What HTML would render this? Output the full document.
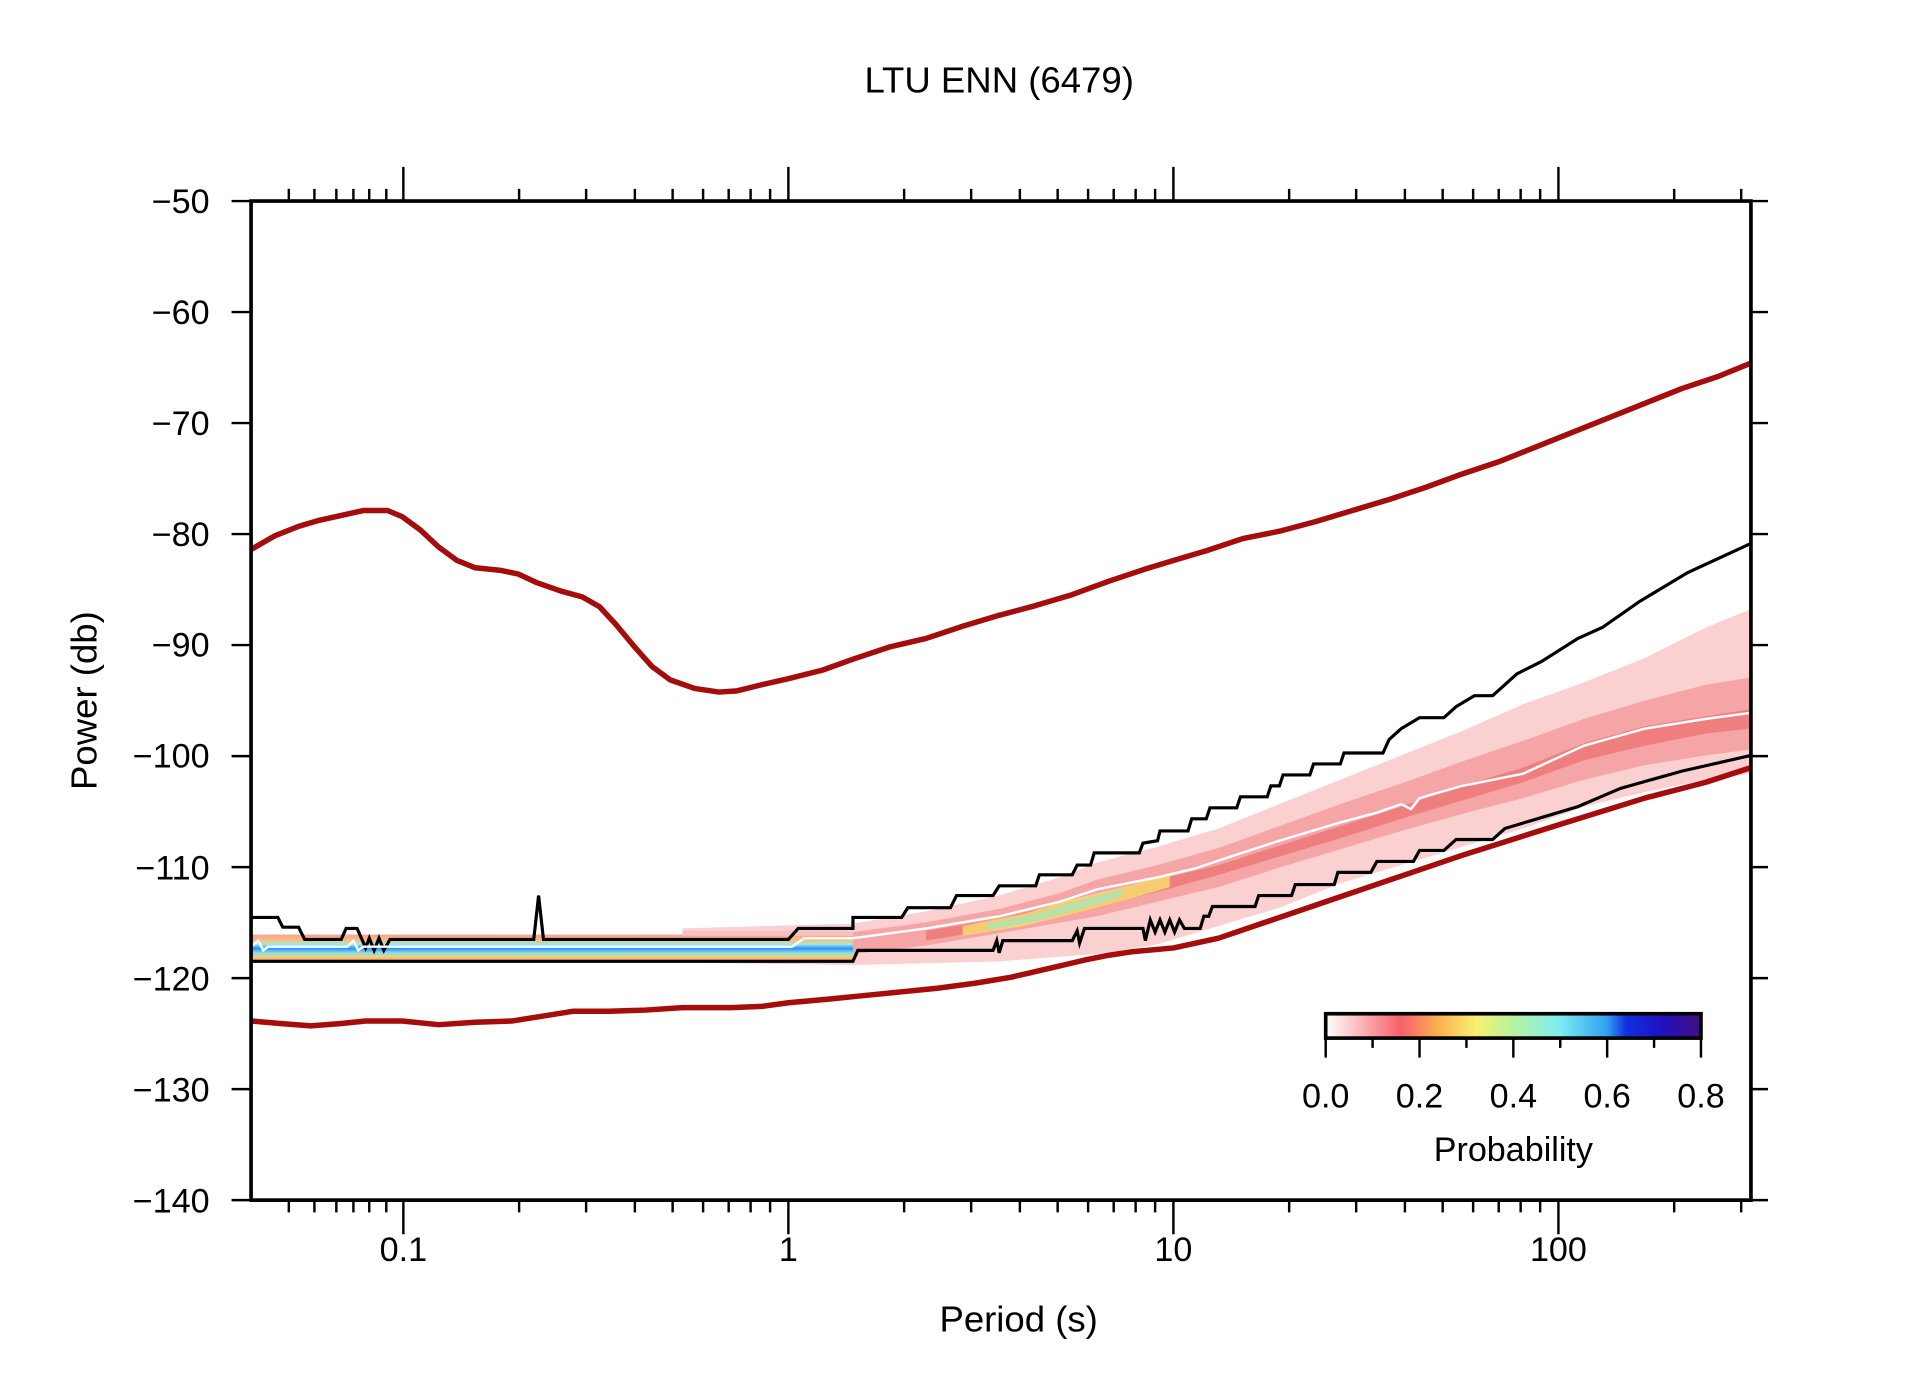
<!DOCTYPE html>
<html><head><meta charset="utf-8"><style>
html,body{margin:0;padding:0;background:#fff}
svg{display:block}
text{font-family:"Liberation Sans",Arial,sans-serif;fill:#000}
</style></head><body>
<svg width="1910" height="1389" viewBox="0 0 1567.5 1140" xmlns="http://www.w3.org/2000/svg">
<defs>
<linearGradient id="cb" x1="0" x2="1" y1="0" y2="0">
<stop offset="0" stop-color="#ffffff"/><stop offset="0.04" stop-color="#fde0e0"/>
<stop offset="0.2" stop-color="#f7606a"/><stop offset="0.3" stop-color="#fbb050"/>
<stop offset="0.4" stop-color="#f8f070"/><stop offset="0.5" stop-color="#b8f2a0"/>
<stop offset="0.62" stop-color="#80eef0"/><stop offset="0.75" stop-color="#30a0f0"/>
<stop offset="0.8" stop-color="#1030e0"/><stop offset="0.9" stop-color="#2010c0"/>
<stop offset="1" stop-color="#401080"/></linearGradient>
<linearGradient id="lowband" x1="0" x2="0" y1="0" y2="1">
<stop offset="0" stop-color="#f7a0a0"/><stop offset="0.2" stop-color="#f8c070"/>
<stop offset="0.35" stop-color="#a0e8f0"/><stop offset="0.5" stop-color="#3090f0"/>
<stop offset="0.65" stop-color="#80e0f0"/><stop offset="0.8" stop-color="#f8d070"/>
<stop offset="1" stop-color="#f08080"/></linearGradient>
</defs>

<text x="820" y="76" font-size="30" text-anchor="middle">LTU ENN (6479)</text>

<!-- PDF band -->
<polygon fill="#fbd0d0" points="560,762 700,758 760,748 820,735 870,720 900,708 950,695 1000,680 1050,660 1100,640 1150,620 1200,600 1250,578 1300,560 1350,540 1400,515 1437,500 1437,635 1400,640 1350,650 1300,662 1250,680 1200,695 1150,710 1100,725 1050,745 1000,760 950,775 900,783 820,789 700,792 560,790"/>
<polygon fill="#f4a0a0" opacity="0.9" points="700,765 760,757 820,746 870,733 900,722 950,710 1000,696 1050,678 1100,660 1150,643 1200,625 1250,608 1300,590 1350,575 1400,562 1437,556 1437,615 1400,620 1350,628 1300,640 1250,655 1200,668 1150,682 1100,697 1050,712 1000,728 950,740 900,752 820,766 760,776 700,783"/>
<polygon fill="#ee7575" opacity="0.8" points="760,764 820,754 870,742 950,722 1000,710 1050,694 1100,678 1150,662 1200,645 1250,630 1300,610 1350,596 1400,588 1437,582 1437,598 1400,602 1350,612 1300,624 1250,642 1200,657 1150,672 1100,688 1050,703 1000,718 950,732 870,752 820,762 760,772"/>
<polygon fill="#f8e070" opacity="0.8" points="790,760 840,750 880,738 930,726 960,717 960,728 930,737 880,750 840,760 790,768"/>
<polygon fill="#a0e8c0" opacity="0.7" points="810,758 850,750 890,738 920,730 920,736 890,745 850,756 810,763"/>
<rect x="206" y="767" width="494" height="23" fill="url(#lowband)"/>
<rect x="560" y="764" width="140" height="4" fill="#f8c0c0"/>

<!-- noise models -->
<polyline fill="none" stroke="#a50d0d" stroke-width="4.5" stroke-linejoin="round" points="206,451 225,440 245,432 262,427 280,423 298,419 318,419 330,424 345,435 360,449 375,460 390,466 410,468 425,471 440,478 460,485 478,490 492,498 505,512 520,530 535,547 550,558 570,565 590,568 605,567 625,562 647,557 675,550 700,541 730,531 760,524 790,514 820,505 850,497 880,488 910,477 940,467 963,460 990,452 1020,442 1050,436 1080,428 1110,419 1140,410 1170,400 1200,389 1230,379 1260,367 1290,355 1320,343 1350,331 1380,319 1410,309 1437,298"/>
<polyline fill="none" stroke="#a50d0d" stroke-width="4.5" stroke-linejoin="round" points="206,838 230,840 255,842 280,840 300,838 330,838 360,841 390,839 420,838 445,834 470,830 500,830 530,829 560,827 600,827 625,826 647,823 680,820 710,817 740,814 770,811 800,807 830,802 860,795 890,788 910,784 930,781 963,778 1000,770 1050,753 1100,736 1150,719 1200,702 1279,677 1350,655 1400,642 1437,630"/>

<!-- percentile lines -->
<polyline fill="none" stroke="#000" stroke-width="2.6" points="206,753 228,753 232,761 245,761 250,771 280,771 284,762 293,762 297,771 300,778 303,770 307,780 311,770 315,780 320,771 438,771 442,735 446,771 647,771 655,762 700,762 700,753 740,753 745,745 780,745 785,735 815,735 820,727 850,727 853,718 880,718 884,710 895,710 898,700 935,700 938,692 950,690 952,682 975,682 978,672 990,672 993,663 1015,663 1018,654 1040,654 1043,645 1050,645 1053,636 1075,636 1078,627 1100,627 1103,618 1135,618 1140,607 1150,598 1165,589 1185,589 1195,580 1210,571 1225,571 1245,553 1265,543 1295,524 1315,515 1345,494 1385,470 1437,446"/>
<polyline fill="none" stroke="#000" stroke-width="2.6" points="206,789 700,789 704,780 815,780 818,772 820,782 823,772 880,772 884,764 886,774 890,762 938,762 940,772 944,755 948,765 952,755 956,765 960,755 964,765 968,755 972,762 985,762 988,752 992,752 995,744 1030,744 1033,735 1060,735 1063,726 1095,726 1098,716 1125,716 1130,707 1160,707 1165,698 1185,698 1195,689 1225,689 1235,680 1265,671 1295,662 1330,647 1380,633 1437,620"/>
<polyline fill="none" stroke="#fff" stroke-width="2" points="206,777 212,772 216,780 220,777 285,777 290,772 294,780 298,777 650,777 660,770 700,770 760,762 820,752 870,740 900,730 950,720 980,713 1010,703 1050,690 1100,675 1130,667 1150,660 1158,664 1165,655 1200,645 1250,635 1300,612 1350,598 1400,590 1437,585"/>

<!-- frame -->
<rect x="206" y="165" width="1231" height="820" fill="none" stroke="#000" stroke-width="3"/>
<g stroke="#000" stroke-width="2">
<path d="M190 165H206M190 256.1H206M190 347.2H206M190 438.3H206M190 529.4H206M190 620.6H206M190 711.7H206M190 802.8H206M190 893.9H206M190 985H206"/>
<path d="M1437 165H1451M1437 256.1H1451M1437 347.2H1451M1437 438.3H1451M1437 529.4H1451M1437 620.6H1451M1437 711.7H1451M1437 802.8H1451M1437 893.9H1451M1437 985H1451"/>
<path d="M331 137V165M647 137V165M963 137V165M1279 137V165M331 985V1013M647 985V1013M963 985V1013M1279 985V1013"/>
<path d="M237 155V165M258 155V165M276 155V165M290 155V165M303 155V165M317 155V165M426 155V165M481 155V165M521 155V165M552 155V165M577 155V165M598 155V165M616 155V165M632 155V165M742 155V165M797 155V165M837 155V165M868 155V165M893 155V165M914 155V165M932 155V165M948 155V165M1058 155V165M1113 155V165M1153 155V165M1184 155V165M1209 155V165M1230 155V165M1248 155V165M1264 155V165M1374 155V165M1429 155V165"/>
<path d="M237 985V995M258 985V995M276 985V995M290 985V995M303 985V995M317 985V995M426 985V995M481 985V995M521 985V995M552 985V995M577 985V995M598 985V995M616 985V995M632 985V995M742 985V995M797 985V995M837 985V995M868 985V995M893 985V995M914 985V995M932 985V995M948 985V995M1058 985V995M1113 985V995M1153 985V995M1184 985V995M1209 985V995M1230 985V995M1248 985V995M1264 985V995M1374 985V995M1429 985V995"/>
</g>
<g font-size="28" text-anchor="end">
<text x="172" y="175">−50</text><text x="172" y="266">−60</text><text x="172" y="357">−70</text>
<text x="172" y="448">−80</text><text x="172" y="539">−90</text><text x="172" y="630">−100</text>
<text x="172" y="722">−110</text><text x="172" y="813">−120</text><text x="172" y="904">−130</text>
<text x="172" y="995">−140</text></g>
<g font-size="28" text-anchor="middle">
<text x="331" y="1035">0.1</text><text x="647" y="1035">1</text><text x="963" y="1035">10</text><text x="1279" y="1035">100</text>
</g>
<text x="836" y="1093" font-size="30" text-anchor="middle">Period (s)</text>
<text transform="translate(79,575) rotate(-90)" font-size="30" text-anchor="middle">Power (db)</text>

<!-- colorbar -->
<rect x="1088" y="832" width="308" height="20" fill="url(#cb)" stroke="#000" stroke-width="3"/>
<g stroke="#000" stroke-width="2">
<path d="M1088 852V868M1165 852V868M1242 852V868M1319 852V868M1396 852V868M1126.5 852V860M1203.5 852V860M1280.5 852V860M1357.5 852V860"/>
</g>
<g font-size="28" text-anchor="middle">
<text x="1088" y="909">0.0</text><text x="1165" y="909">0.2</text><text x="1242" y="909">0.4</text><text x="1319" y="909">0.6</text><text x="1396" y="909">0.8</text>
</g>
<text x="1242" y="953" font-size="28" text-anchor="middle">Probability</text>
</svg>
</body></html>
